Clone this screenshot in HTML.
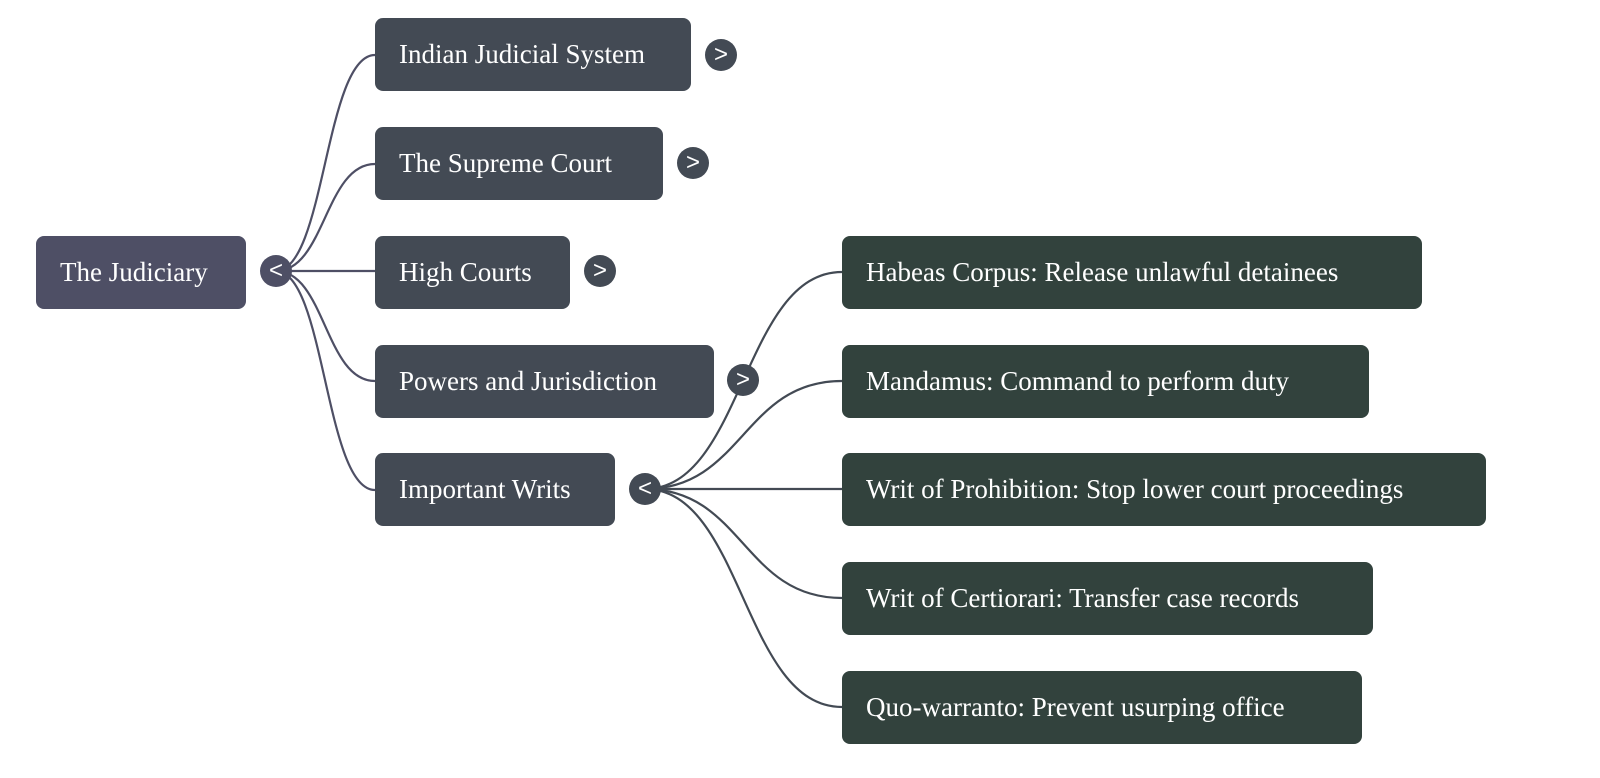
<!DOCTYPE html>
<html><head><meta charset="utf-8"><style>
body{margin:0;width:1600px;height:778px;background:#fff;overflow:hidden;position:relative;font-family:"Liberation Serif",serif}
.n{position:absolute;height:73px;border-radius:8px;color:#fff;font-size:27px;line-height:73px;padding-left:24px;box-sizing:border-box;white-space:nowrap}
.r{background:#4e4f65}.a{background:#434a54}.w{background:#32423d}
.t{position:absolute;width:32px;height:32px;border-radius:50%;background:#434a54;color:#fff;font-family:"Liberation Sans",sans-serif;font-size:24px;line-height:31px;text-align:center}
svg{position:absolute;left:0;top:0}
</style></head><body>
<svg width="1600" height="778" fill="none" stroke-width="2.2">
<g stroke="#4e4f65">
<path d="M276 271 C325 271 325 55 375 55"/>
<path d="M276 271 C325 271 325 164 375 164"/>
<path d="M276 271 L375 271"/>
<path d="M276 271 C325 271 325 381 375 381"/>
<path d="M276 271 C325 271 325 490 375 490"/>
</g>
<g stroke="#434a54">
<path d="M645 489 C743 489 743 272 842 272"/>
<path d="M645 489 C743 489 743 381 842 381"/>
<path d="M645 489 L842 489"/>
<path d="M645 489 C743 489 743 598 842 598"/>
<path d="M645 489 C743 489 743 707 842 707"/>
</g>
</svg>
<div class="n r" style="left:36px;top:236px;width:210px">The Judiciary</div>
<div class="t" style="left:260px;top:255px;background:#4e4f65">&lt;</div>
<div class="n a" style="left:375px;top:18px;width:316px">Indian Judicial System</div>
<div class="t" style="left:705px;top:39px">&gt;</div>
<div class="n a" style="left:375px;top:127px;width:288px">The Supreme Court</div>
<div class="t" style="left:677px;top:147px">&gt;</div>
<div class="n a" style="left:375px;top:236px;width:195px">High Courts</div>
<div class="t" style="left:584px;top:255px">&gt;</div>
<div class="n a" style="left:375px;top:345px;width:339px">Powers and Jurisdiction</div>
<div class="t" style="left:727px;top:364px">&gt;</div>
<div class="n a" style="left:375px;top:453px;width:240px">Important Writs</div>
<div class="t" style="left:629px;top:473px">&lt;</div>
<div class="n w" style="left:842px;top:236px;width:580px">Habeas Corpus: Release unlawful detainees</div>
<div class="n w" style="left:842px;top:345px;width:527px">Mandamus: Command to perform duty</div>
<div class="n w" style="left:842px;top:453px;width:644px">Writ of Prohibition: Stop lower court proceedings</div>
<div class="n w" style="left:842px;top:562px;width:531px">Writ of Certiorari: Transfer case records</div>
<div class="n w" style="left:842px;top:671px;width:520px">Quo-warranto: Prevent usurping office</div>
</body></html>
